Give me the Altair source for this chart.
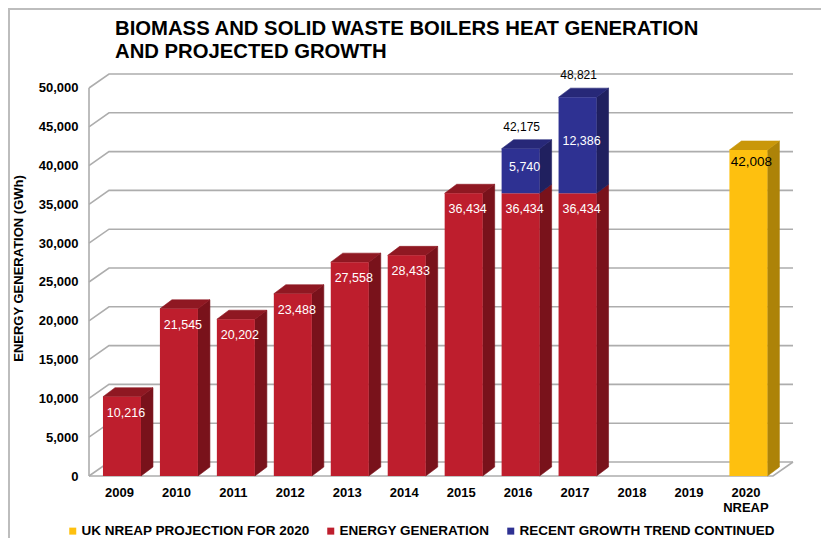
import json
import altair as alt
import pandas as pd

# ---------------- data ----------------
categories = ["2009", "2010", "2011", "2012", "2013", "2014", "2015", "2016",
              "2017", "2018", "2019", "2020\nNREAP"]
energy_generation = [10216, 21545, 20202, 23488, 27558, 28433, 36434, 36434,
                     36434, None, None, None]
growth_trend = [None, None, None, None, None, None, None, 5740, 12386, None, None, None]
trend_totals = [None, None, None, None, None, None, None, 42175, 48821, None, None, None]
nreap_projection = [None, None, None, None, None, None, None, None, None, None, None, 42008]
y_ticks = [0, 5000, 10000, 15000, 20000, 25000, 30000, 35000, 40000, 45000, 50000]

title_lines = ["BIOMASS AND SOLID WASTE BOILERS HEAT GENERATION", "AND PROJECTED GROWTH"]
y_title = "ENERGY GENERATION (GWh)"

S_NREAP = "UK NREAP PROJECTION FOR 2020"
S_ENERGY = "ENERGY GENERATION"
S_TREND = "RECENT GROWTH TREND CONTINUED"
legend_order = [S_NREAP, S_ENERGY, S_TREND]
front_colors = ["#FEC00F", "#BE1E2D", "#2E3192"]
side_colors = ["#AD8308", "#79121B", "#20205F"]
top_colors = ["#C9970A", "#8F1822", "#272878"]

FONT = "Liberation Sans"

# ---------------- geometry (3D look) ----------------
XMIN, XMAX = -0.579, 11.783
YMAX = 51804
HW = 0.3336      # half bar width (category units)
BD = 0.2107      # bar depth, x
BDY = 1160       # bar depth, y (data units)
WD = 0.351       # wall depth, x
WDY = 1804       # wall depth, y
FLOOR_R = 11.432

# stacked segments
segs = []
for i in range(len(categories)):
    base = 0
    for name, vals in [(S_ENERGY, energy_generation), (S_TREND, growth_trend),
                       (S_NREAP, nreap_projection)]:
        v = vals[i]
        if v is None:
            continue
        segs.append(dict(i=i, series=name, start=base, end=base + v, value=v))
        base += v
for s in segs:
    s["top"] = all(not (o["i"] == s["i"] and o["start"] >= s["end"]) for o in segs)

front_df = pd.DataFrame([dict(series=s["series"], x0=s["i"] - HW, x1=s["i"] + HW,
                              start=s["start"], end=s["end"]) for s in segs])

side_rows, top_rows = [], []
for k, s in enumerate(segs):
    x1 = s["i"] + HW
    x0 = s["i"] - HW
    side_rows.append(dict(face=f"s{k}", series=s["series"], x=x1, lo=s["start"], hi=s["end"]))
    side_rows.append(dict(face=f"s{k}", series=s["series"], x=x1 + BD,
                          lo=s["start"] + BDY, hi=s["end"] + BDY))
    if s["top"]:
        v = s["end"]
        for xx, lo, hi in [(x0, v, v), (x0 + BD, v, v + BDY), (x1, v, v + BDY),
                           (x1 + BD, v + BDY, v + BDY)]:
            top_rows.append(dict(face=f"t{k}", series=s["series"], x=xx, lo=lo, hi=hi))
side_df = pd.DataFrame(side_rows)
top_df = pd.DataFrame(top_rows)

grid_rows = []
for v in y_ticks:
    pts = [(XMIN, v), (XMIN + WD, v + WDY), (XMAX, v + WDY)]
    for o, (xx, yy) in enumerate(pts):
        grid_rows.append(dict(line=f"g{v}", o=o, x=xx, y=yy))
for o, (xx, yy) in enumerate([(XMIN, 0), (FLOOR_R, 0), (XMAX, WDY)]):
    grid_rows.append(dict(line="floor", o=o, x=xx, y=yy))
for o, (xx, yy) in enumerate([(XMIN, 0), (XMIN, y_ticks[-1])]):
    grid_rows.append(dict(line="left", o=o, x=xx, y=yy))
grid_df = pd.DataFrame(grid_rows)

red_lab = pd.DataFrame([dict(x=s["i"], y=s["end"], t=f"{s['value']:,}") for s in segs
                        if s["series"] == S_ENERGY])
blue_lab = pd.DataFrame([dict(x=s["i"], y=(s["start"] + s["end"]) / 2, t=f"{s['value']:,}")
                         for s in segs if s["series"] == S_TREND])
gold_lab = pd.DataFrame([dict(x=s["i"], y=s["end"], t=f"{s['value']:,}") for s in segs
                         if s["series"] == S_NREAP])
tot_lab = pd.DataFrame([dict(x=i, y=t, t=f"{t:,}") for i, t in enumerate(trend_totals)
                        if t is not None])

# ---------------- scales / axes ----------------
label_expr = "[" + ",".join(json.dumps(c.split("\n")) for c in categories) + "][datum.value]"
xscale = alt.Scale(domain=[XMIN, XMAX], nice=False, zero=False)
yscale = alt.Scale(domain=[0, YMAX], nice=False, zero=False)
xaxis = alt.Axis(values=list(range(len(categories))), labelExpr=label_expr, title=None,
                 grid=False, domain=False, ticks=False, labelFont=FONT,
                 labelFontWeight="bold", labelFontSize=13, labelColor="black",
                 labelPadding=10, labelOffset=-3, labelFlush=False, labelOverlap=False,
                 labelLineHeight=15, labelBaseline="top")
yaxis = alt.Axis(values=y_ticks, format=",d", title=y_title, grid=False, domain=False,
                 ticks=False, labelFont=FONT, labelFontWeight="bold", labelFontSize=13,
                 labelColor="black", labelPadding=11, titleFont=FONT, titleFontSize=13,
                 titleFontWeight="bold", titleColor="black", titleAngle=270, titleX=-71,
                 titleY=194, titleAlign="center", titleBaseline="middle")


def X(f):
    return alt.X(f"{f}:Q", scale=xscale, axis=xaxis)


def Y(f):
    return alt.Y(f"{f}:Q", scale=yscale, axis=yaxis, stack=None)


grid_layer = alt.Chart(grid_df).mark_line(color="#ADADAD", strokeWidth=1.6).encode(
    x=X("x"), y=Y("y"), detail="line:N", order="o:Q")

side_layer = alt.Chart(side_df).mark_area(strokeWidth=0.6).encode(
    x=X("x"), y=Y("lo"), y2="hi:Q", detail="face:N",
    fill=alt.Fill("series:N", scale=alt.Scale(domain=legend_order, range=side_colors), legend=None),
    stroke=alt.Stroke("series:N", scale=alt.Scale(domain=legend_order, range=side_colors), legend=None))

top_layer = alt.Chart(top_df).mark_area(strokeWidth=0.6).encode(
    x=X("x"), y=Y("lo"), y2="hi:Q", detail="face:N",
    fill=alt.Fill("series:N", scale=alt.Scale(domain=legend_order, range=top_colors), legend=None),
    stroke=alt.Stroke("series:N", scale=alt.Scale(domain=legend_order, range=top_colors), legend=None))

front_layer = alt.Chart(front_df).mark_rect().encode(
    x=X("x0"), x2="x1:Q", y=Y("start"), y2="end:Q",
    fill=alt.Fill("series:N", scale=alt.Scale(domain=legend_order, range=front_colors),
                  legend=alt.Legend(title=None, orient="none", legendX=-23, legendY=450,
                                    direction="horizontal", symbolType="square",
                                    symbolSize=49, symbolStrokeWidth=0, labelFont=FONT,
                                    labelFontWeight="bold", labelFontSize=13.5,
                                    labelColor="black", labelLimit=400, columnPadding=14,
                                    labelOffset=2, padding=0)))

red_text = alt.Chart(red_lab).mark_text(color="white", font=FONT, fontSize=12.5, dx=4, dy=16,
                                        baseline="middle").encode(x=X("x"), y=Y("y"), text="t:N")
blue_text = alt.Chart(blue_lab).mark_text(color="white", font=FONT, fontSize=12.5, dx=4, dy=-4,
                                          baseline="middle").encode(x=X("x"), y=Y("y"), text="t:N")
gold_text = alt.Chart(gold_lab).mark_text(color="black", font=FONT, fontSize=13.5, dx=3, dy=12,
                                          baseline="middle").encode(x=X("x"), y=Y("y"), text="t:N")
tot_text = alt.Chart(tot_lab).mark_text(color="black", font=FONT, fontSize=12, dx=1, dy=-22,
                                        baseline="middle").encode(x=X("x"), y=Y("y"), text="t:N")

one = pd.DataFrame({"k": [0]})
title_layer = alt.Chart(one).mark_text(text=title_lines, font=FONT, fontSize=20.3, fontWeight="bold",
                                       color="black", align="left", baseline="alphabetic",
                                       lineHeight=23).encode(x=alt.value(26), y=alt.value(-39))
border_top = alt.Chart(one).mark_rule(color="#BDBDBD", strokeWidth=2).encode(
    x=alt.value(-81), x2=alt.value(732), y=alt.value(-65))
border_left = alt.Chart(one).mark_rule(color="#BDBDBD", strokeWidth=2).encode(
    x=alt.value(-80), y=alt.value(-65), y2=alt.value(464))

chart = alt.layer(
    border_top, border_left, grid_layer, side_layer, top_layer, front_layer,
    red_text, blue_text, gold_text, tot_text, title_layer
).resolve_scale(fill="independent", stroke="independent").properties(
    width=704, height=402,
    padding={"left": 81, "top": 66, "right": 28, "bottom": 62},
    autosize=alt.AutoSizeParams(type="none"),
    background="white",
).configure_view(stroke=None)

chart.save("out.html", embed_options={"renderer": "svg", "actions": False})
